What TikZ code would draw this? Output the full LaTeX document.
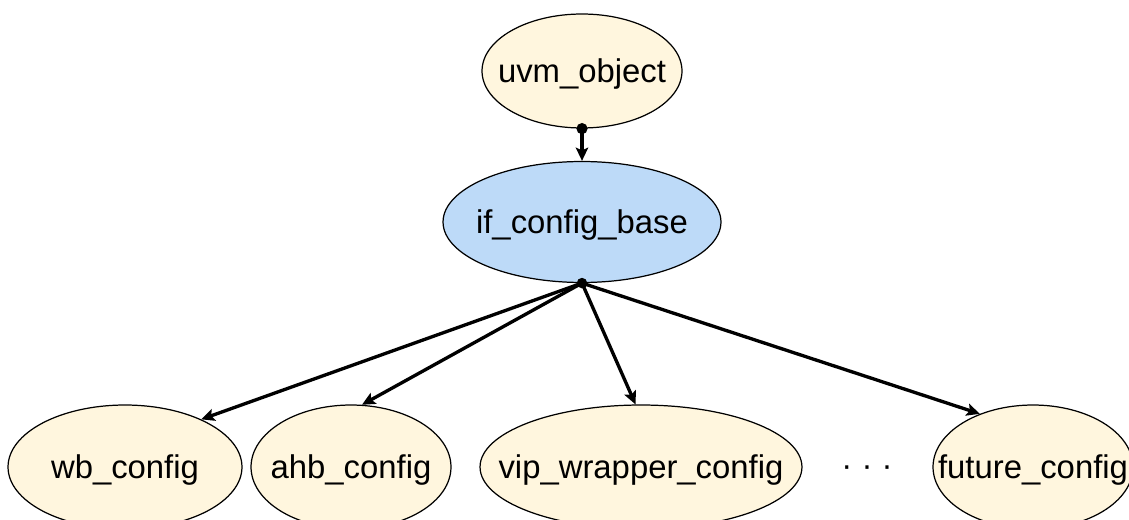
\documentclass[tikz,border=0pt]{standalone}
\usepackage{fontspec}
\setmainfont{Liberation Sans}
\usepackage{tikz}
\usepackage{xcolor}
\usetikzlibrary{arrows.meta,shapes.geometric}

\definecolor{basefill}{RGB}{255,246,222}
\definecolor{ifcfill}{RGB}{189,218,248}
\newcommand{\cname}[1]{\makebox[0pt]{\raisebox{-1.8pt}[\height][\depth]{#1}}}

\begin{document}
\begin{tikzpicture}[x=0.02cm,y=-0.02cm,>={Stealth[length=7.5pt,width=7pt,inset=1.5pt]},
    cls/.style={ellipse,draw,line width=0.7pt,fill=basefill,inner sep=0pt,
        minimum height=2.48cm,font=\fontsize{18.7}{22}\selectfont},
    link/.style={->,line width=1.9pt}]
    \useasboundingbox (0,0) rectangle (1129,520);
    \node[cls,minimum width=4cm,minimum height=2.28cm] (uvmobj) at (582,71) {\cname{uvm\_object}};
    \node[cls,fill=ifcfill,minimum width=5.56cm,minimum height=2.42cm] (ifcbase) at (582,222) {\cname{if\_config\_base}};
    \node[cls,minimum width=4.68cm] (wbcfg) at (125,467) {\cname{wb\_config}};
    \node[cls,minimum width=4cm] (ahbcfg) at (351,467) {\cname{ahb\_config}};
    \node[cls,minimum width=6.44cm] (vipcfg) at (641,467) {\cname{vip\_wrapper\_config}};
    \node[cls,minimum width=4cm] (futcfg) at (1033,467) {\cname{future\_config}};
    \node[font=\fontsize{18.7}{22}\selectfont] (more) at (867,471) {· · ·};
    \draw[link] (uvmobj.south) -- (ifcbase.north);
    \fill (uvmobj.south) circle (3.2pt);
    \draw[link] (ifcbase.south) -- (wbcfg.32);
    \draw[link] (ifcbase.south) -- (ahbcfg.80);
    \draw[link] (ifcbase.south) -- (vipcfg.95);
    \draw[link] (ifcbase.south) -- (futcfg.135);
    \fill (ifcbase.south) circle (3pt);
\end{tikzpicture}
\end{document}
